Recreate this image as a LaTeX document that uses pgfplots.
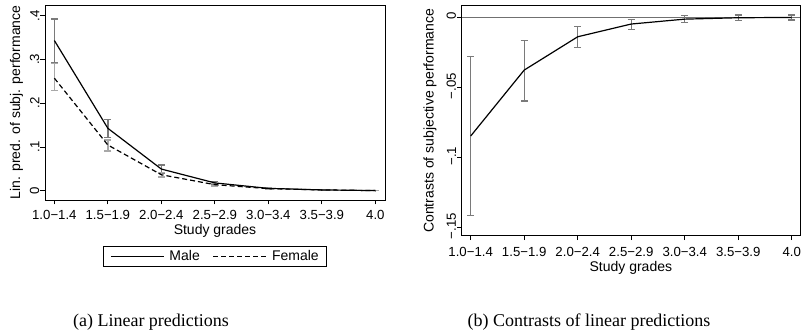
\documentclass[border=0pt]{standalone}
\usepackage{pgfplots}
\pgfplotsset{compat=1.18}
\usepackage{fontspec}
\setmainfont{Liberation Serif}
\setsansfont{Liberation Sans}
\definecolor{cimale}{HTML}{7A7A7A}
\definecolor{cifemale}{HTML}{A8A8A8}
\definecolor{zeroline}{HTML}{707070}
\begin{document}
\begin{tikzpicture}
\useasboundingbox (0,0) rectangle (802bp,330bp);
\pgfplotsset{
  stata/.style={
    scale only axis,
    anchor=south west,
    font=\sffamily\fontsize{14bp}{16bp}\selectfont,
    axis line style={black, line width=0.9bp},
    tick style={black, line width=0.9bp},
    tick align=outside,
    major tick length=4.5bp,
    xtick={0,1,2,3,4,5,6},
    xticklabels={1.0−1.4,1.5−1.9,2.0−2.4,2.5−2.9,3.0−3.4,3.5−3.9,4.0},
    xtick pos=bottom, ytick pos=left,
    yticklabel style={rotate=90, anchor=south, inner sep=1bp, font=\sffamily\fontsize{13.2bp}{15bp}\selectfont},
    xticklabel style={anchor=north, inner sep=1bp, yshift=-4.5bp, font=\sffamily\fontsize{13.2bp}{15bp}\selectfont},
    xlabel={Study grades},
    every axis x label/.style={at={([yshift=-35bp]axis description cs:0.5,0)}, anchor=base},
    grid=none,
  }
}
\begin{axis}[stata,
  at={(45bp,130bp)}, width=340bp, height=195bp,
  xmin=-0.175, xmax=6.18, ymin=-0.021, ymax=0.424,
  ytick={0,0.1,0.2,0.3,0.4},
  yticklabels={0,.1,.2,.3,.4},
  ylabel={Lin. pred. of subj. performance},
  every axis y label/.style={at={([xshift=-25bp]axis description cs:0,0.5)}, rotate=90, anchor=base},
  legend columns=2,
  legend style={at={(0.5,-0.236)}, anchor=north, draw=black, line width=0.6bp,
    font=\sffamily\fontsize{14bp}{16bp}\selectfont,
    inner xsep=7bp, inner ysep=3bp,
    nodes={inner sep=1bp},
    /tikz/every odd column/.append style={column sep=4bp},
    /tikz/every even column/.append style={column sep=12bp}},
  legend image code/.code={\draw[#1] (0bp,0bp) -- (53bp,0bp);},
]
% CI male
\addplot[forget plot, draw=none, mark=none,
  error bars/.cd, y dir=both, y explicit,
  error bar style={draw=cimale, solid, line width=1.3bp},
  error mark options={rotate=90, mark size=3.5bp, draw=cimale, line width=1.3bp}]
  table[x=x, y=y, y error=e] {
x y e
0 0.3425 0.0495
1 0.1425 0.0205
2 0.0494 0.0093
3 0.0180 0.0040
4 0.0055 0.0020
5 0.0020 0.0010
6 0.0005 0.0005
};
% CI female
\addplot[forget plot, draw=none, mark=none,
  error bars/.cd, y dir=both, y explicit,
  error bar style={draw=cifemale, solid, line width=1.3bp},
  error mark options={rotate=90, mark size=3.5bp, draw=cifemale, line width=1.3bp}]
  table[x=x, y=y, y error=e] {
x y e
0 0.2600 0.0310
1 0.1035 0.0125
2 0.0366 0.0050
3 0.0140 0.0030
4 0.0050 0.0015
5 0.0020 0.0010
6 0.0005 0.0005
};
\addplot[black, line width=1.2bp, mark=none] table[x=x, y=y] {
x y
0 0.343
1 0.1426
2 0.0496
3 0.018
4 0.0055
5 0.002
6 0.0005
};
\addlegendentry{Male}
\addplot[black, line width=1.2bp, mark=none, dash pattern=on 5bp off 3bp] table[x=x, y=y] {
x y
0 0.257
1 0.1045
2 0.0366
3 0.014
4 0.005
5 0.002
6 0.0005
};
\addlegendentry{Female}
\end{axis}

\begin{axis}[stata,
  at={(461.7bp,94.3bp)}, width=338.3bp, height=230bp,
  xmin=-0.168, xmax=6.155, ymin=-0.1557, ymax=0.0086,
  ytick={-0.15,-0.1,-0.05,0},
  yticklabels={−.15,−.1,−.05,0},
  ylabel={Contrasts of subjective performance},
  yticklabel style={xshift=1.6bp},
  xticklabel style={yshift=-1bp},
  every axis y label/.style={at={([xshift=-28bp]axis description cs:0,0.5)}, rotate=90, anchor=base},
  every axis x label/.style={at={([yshift=-36bp]axis description cs:0.5,0)}, anchor=base},
]
\addplot[zeroline, line width=1.5bp, forget plot] coordinates {(-0.168,0) (6.155,0)};
\addplot[forget plot, draw=none, mark=none,
  error bars/.cd, y dir=both, y explicit,
  error bar style={draw=cimale, solid, line width=1.3bp},
  error mark options={rotate=90, mark size=3.5bp, draw=cimale, line width=1.3bp}]
  table[x=x, y=y, y error=e] {
x y e
0 -0.0845 0.0566
1 -0.0379 0.0215
2 -0.0138 0.0074
3 -0.0047 0.0036
4 -0.0010 0.0025
5 0.0000 0.0020
6 0.0002 0.0018
};
\addplot[black, line width=1.2bp, mark=none] table[x=x, y=y] {
x y
0 -0.0845
1 -0.0374
2 -0.0136
3 -0.0045
4 -0.0010
5 0.0000
6 0.0002
};
\end{axis}

\node[font=\rmfamily\fontsize{18bp}{20bp}\selectfont, anchor=base] at (151bp,4bp) {(a) Linear predictions};
\node[font=\rmfamily\fontsize{18bp}{20bp}\selectfont, anchor=base] at (589bp,4bp) {(b) Contrasts of linear predictions};
\end{tikzpicture}
\end{document}
